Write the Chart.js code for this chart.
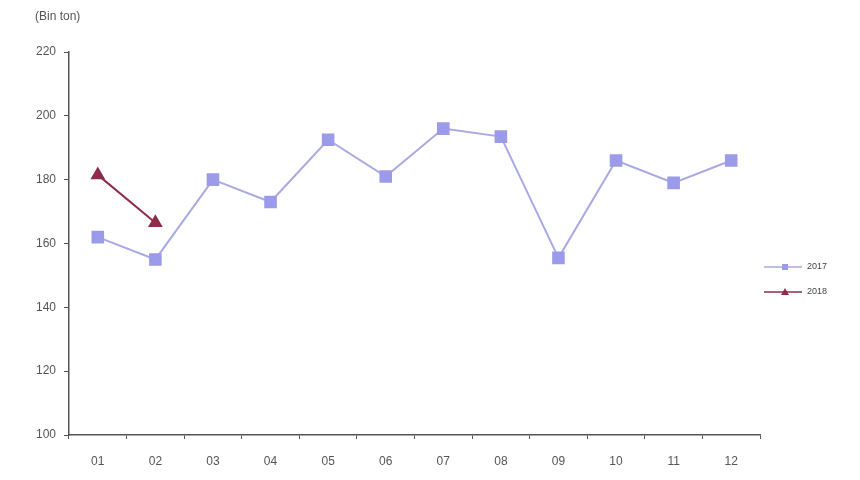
<!DOCTYPE html>
<html>
<head>
<meta charset="utf-8">
<script src="https://cdn.jsdelivr.net/npm/chart.js@4/dist/chart.umd.min.js"></script>
<style>
html,body{margin:0;padding:0;background:#fff;}
#wrap{width:860px;height:480px;position:relative;}
</style>
</head>
<body>
<div id="wrap"><canvas id="c" width="860" height="480"></canvas></div>
<script>
const categories = ["01","02","03","04","05","06","07","08","09","10","11","12"];
const series2017 = [162,155,180,173,192.5,181,196,193.5,155.5,186,179,186];
const series2018 = [181.5,166.5];
const seriesLabels = ["2017","2018"];
const yTicks = [100,120,140,160,180,200,220];
const unitLabel = "(Bin ton)";

const legendPlugin = {
  id: 'customLegend',
  afterDraw(chart) {
    const ctx = chart.ctx;
    ctx.save();
    ctx.font = '12px Arial, "Liberation Sans", sans-serif';
    ctx.fillStyle = '#555';
    ctx.textBaseline = 'middle';
    ctx.textAlign = 'left';
    ctx.fillText(unitLabel, 35, 17);
    const rows = [267, 292];
    chart.data.datasets.forEach((ds, i) => {
      const y = rows[i];
      ctx.strokeStyle = ds.borderColor;
      ctx.lineWidth = 1.5;
      ctx.beginPath();
      ctx.moveTo(764, y);
      ctx.lineTo(802, y);
      ctx.stroke();
      ctx.fillStyle = ds.pointBackgroundColor;
      if (ds.pointStyle === 'rect') {
        ctx.fillRect(782, y - 3, 6, 6);
      } else {
        ctx.beginPath();
        ctx.moveTo(785, y - 4);
        ctx.lineTo(789, y + 3);
        ctx.lineTo(781, y + 3);
        ctx.closePath();
        ctx.fill();
      }
      ctx.fillStyle = '#444';
      ctx.font = '9px Arial, "Liberation Sans", sans-serif';
      ctx.fillText(ds.label, 807, y);
    });
    ctx.restore();
  }
};

new Chart(document.getElementById('c'), {
  type: 'line',
  data: {
    labels: categories,
    datasets: [
      {
        label: seriesLabels[0],
        data: series2017,
        borderColor: '#a9a9e3',
        backgroundColor: '#9b9bea',
        pointBackgroundColor: '#9b9bea',
        pointBorderColor: '#9b9bea',
        pointStyle: 'rect',
        pointRadius: 7.5,
        pointHoverRadius: 7.5,
        borderWidth: 2,
        tension: 0
      },
      {
        label: seriesLabels[1],
        data: series2018,
        borderColor: '#8e2c4c',
        backgroundColor: '#8e2c4c',
        pointBackgroundColor: '#8e2c4c',
        pointBorderColor: '#8e2c4c',
        pointStyle: 'triangle',
        pointRadius: 6.5,
        pointHoverRadius: 6.5,
        borderWidth: 2,
        tension: 0
      }
    ]
  },
  options: {
    responsive: false,
    animation: false,
    layout: { padding: { top: 52, right: 100, left: 0, bottom: 0 } },
    plugins: { legend: { display: false }, tooltip: { enabled: false } },
    scales: {
      x: {
        offset: true,
        grid: { offset: true, drawOnChartArea: false, drawTicks: true, tickLength: 4, color: '#555' },
        border: { color: '#555', width: 1.5 },
        ticks: { color: '#555', font: { size: 12, family: 'Arial, "Liberation Sans", sans-serif' }, padding: 15 },
        afterFit(scale) { scale.height = 45; }
      },
      y: {
        min: 100,
        max: 220,
        afterBuildTicks(scale) { scale.ticks = yTicks.map(v => ({ value: v })); },
        grid: { drawOnChartArea: false, drawTicks: true, tickLength: 5, color: '#555' },
        border: { color: '#555', width: 1.5 },
        ticks: { color: '#555', font: { size: 12, family: 'Arial, "Liberation Sans", sans-serif' }, padding: 8 },
        afterFit(scale) { scale.width = 69; }
      }
    }
  },
  plugins: [legendPlugin]
});
</script>
</body>
</html>
